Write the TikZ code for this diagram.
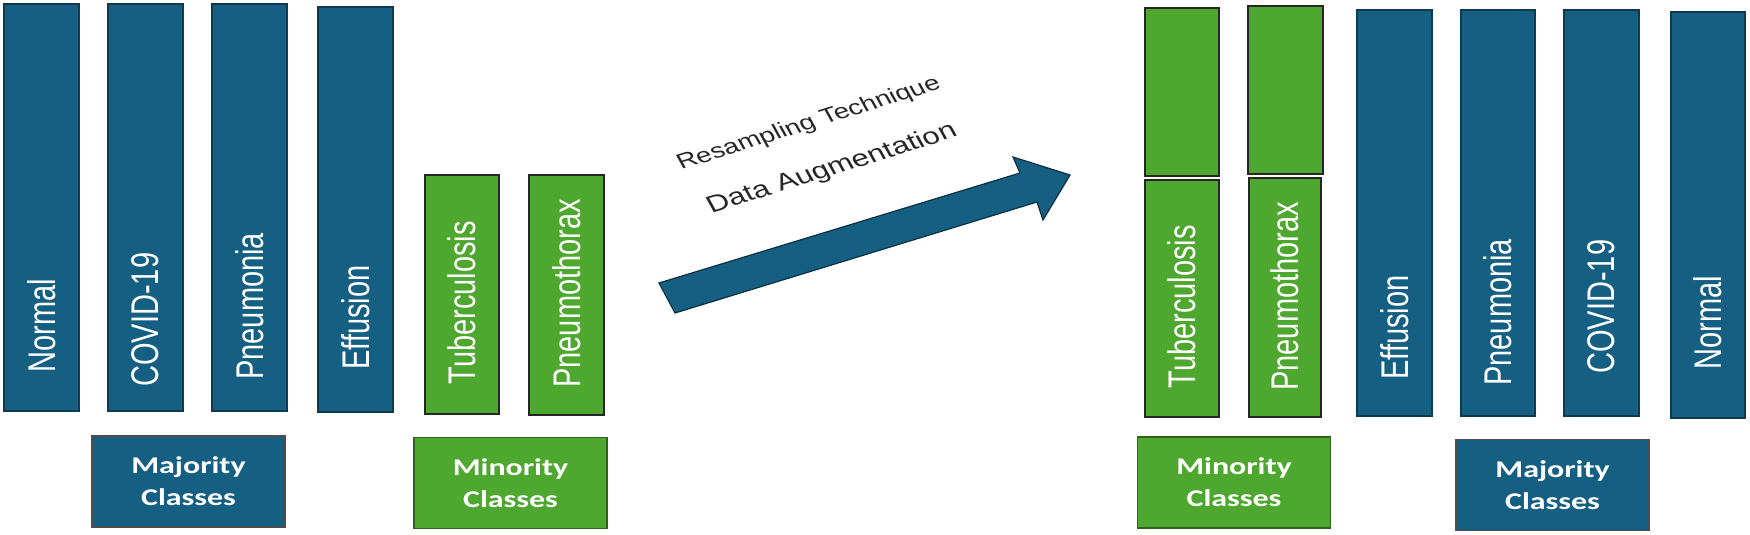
\documentclass[tikz,border=0pt]{standalone}
\usepackage{fontspec}
\setmainfont{Liberation Sans}
\newfontfamily\boxfont{Carlito}
\definecolor{officeblue}{RGB}{21,96,130}
\definecolor{officegreen}{RGB}{78,167,46}

\begin{document}
\begin{tikzpicture}[x=0.5pt, y=-0.5pt,
    bluebar/.style={fill=officeblue, draw=officeblue!60!black, line width=0.6pt},
    greenbar/.style={fill=officegreen, draw=black!85, line width=1pt},
    barlabel/.style={text=white, inner sep=0pt, anchor=west,
        font=\fontsize{14.5}{17}\selectfont, xscale=1.33, rotate=90},
    classbox/.style={draw=black!70, line width=0.6pt, text=white, align=center,
        minimum width=72.5pt, minimum height=45.5pt, inner sep=0pt,
        font=\boxfont\bfseries\fontsize{12}{16}\selectfont, xscale=1.33},
    steptext/.style={text=black!85, inner sep=0pt, xscale=1.33, rotate=22.6}]
    \path[use as bounding box, fill=white] (0,0) rectangle (1750,535);

    % before resampling
    \filldraw[bluebar] (4,4) rectangle (79,411);
    \filldraw[bluebar] (108,4) rectangle (183,411);
    \filldraw[bluebar] (212,4) rectangle (287,411);
    \filldraw[bluebar] (318,7) rectangle (393,412);
    \filldraw[greenbar] (425,175) rectangle (499,414);
    \filldraw[greenbar] (529,175) rectangle (604,415);
    \node[barlabel] (lnormal) at (41.5,373) {Normal};
    \node[barlabel] (lcovid) at (145.5,387) {COVID-19};
    \node[barlabel] (lpneumonia) at (249.5,380) {Pneumonia};
    \node[barlabel] (leffusion) at (355.5,370) {Effusion};
    \node[barlabel] (ltb) at (462,385) {Tuberculosis};
    \node[barlabel] (lpneumothorax) at (566.5,388) {Pneumothorax};
    \node[classbox, fill=officeblue] (lmajority) at (188.5,481.5) {Majority\\Classes};
    \node[classbox, fill=officegreen, draw=officegreen!60!black] (lminority) at (510.5,483) {Minority\\Classes};

    % the arrow
    \filldraw[fill=officeblue, draw=officeblue!50!black, line width=0.6pt]
        (659,283) -- (1020,173) -- (1013,157) -- (1070,175) --
        (1043,220) -- (1037,202) -- (675,313) -- cycle;
    \node[steptext, font=\fontsize{10.5}{12}\selectfont] (resample) at (809,124) {Resampling Technique};
    \node[steptext, font=\fontsize{11.75}{14}\selectfont] (augment) at (832,169) {Data Augmentation};

    % after resampling
    \filldraw[greenbar] (1145,8) rectangle (1219,176);
    \filldraw[greenbar] (1145,180) rectangle (1219,417);
    \filldraw[greenbar] (1248,6) rectangle (1323,174);
    \filldraw[greenbar] (1249,178) rectangle (1321,417);
    \filldraw[bluebar] (1357,10) rectangle (1432,416);
    \filldraw[bluebar] (1461,10) rectangle (1535,416);
    \filldraw[bluebar] (1564,10) rectangle (1639,416);
    \filldraw[bluebar] (1671,12) rectangle (1745,418);
    \node[barlabel] (rtb) at (1182,389) {Tuberculosis};
    \node[barlabel] (rpneumothorax) at (1285,391) {Pneumothorax};
    \node[barlabel] (reffusion) at (1394.5,380) {Effusion};
    \node[barlabel] (rpneumonia) at (1498,386) {Pneumonia};
    \node[barlabel] (rcovid) at (1601.5,374) {COVID-19};
    \node[barlabel] (rnormal) at (1708,370) {Normal};
    \node[classbox, fill=officegreen, draw=officegreen!60!black] (rminority) at (1234,482.5) {Minority\\Classes};
    \node[classbox, fill=officeblue] (rmajority) at (1552.5,485) {Majority\\Classes};
\end{tikzpicture}
\end{document}
